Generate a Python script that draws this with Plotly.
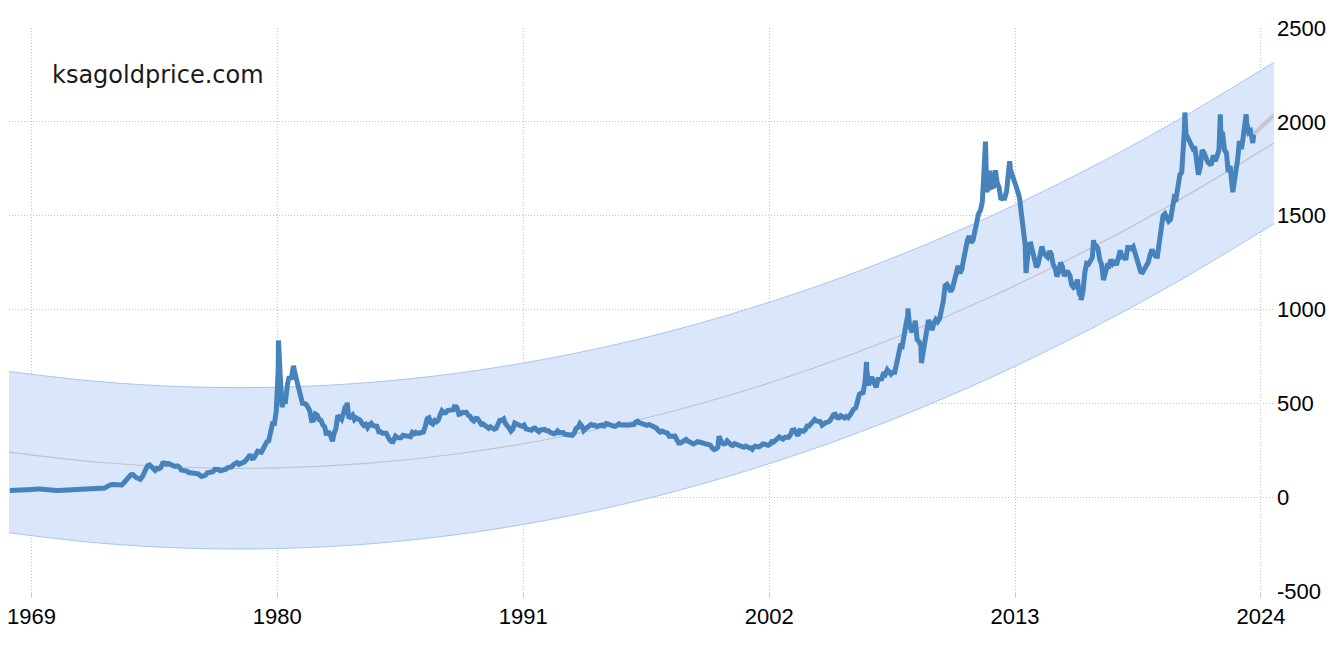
import pandas as pd
import plotly.graph_objects as go

# ---- monthly gold price (USD/oz); one row per year, Jan..Dec ----
start_year = 1968
monthly_prices = [
    [35.5, 36.5, 38, 39, 41, 41, 39.5, 38.5, 39, 39.5, 39.5, 41.5],
    [42, 42.5, 43, 43, 43, 41.5, 42, 41, 40.5, 40, 37, 35.5],
    [35, 35, 35.3, 35.7, 36, 35.5, 35.3, 35.4, 36.2, 37.5, 37.4, 37.4],
    [37.9, 38.7, 38.9, 39.5, 40.5, 40.1, 41, 42.7, 42, 42.5, 42.9, 43.5],
    [45.8, 48.3, 48.3, 49, 54.6, 62, 65.7, 67, 65.5, 64.9, 62.9, 63.9],
    [65.1, 74.2, 84.4, 90.5, 102, 120, 120.2, 106.8, 103, 100.1, 94.8, 106.7],
    [129, 150, 168, 172, 163, 154, 143, 154, 151, 158, 181, 183],
    [176, 180, 178, 170, 167, 164, 166, 160, 145, 143, 142, 139],
    [131, 131, 133, 128, 126, 125, 117, 110, 114, 117, 130, 134],
    [132, 136, 148, 149, 147, 141, 143, 145, 149, 158, 162, 161],
    [173, 178, 184, 175, 177, 184, 188, 206, 212, 227, 206, 208],
    [227, 245, 242, 239, 257, 279, 295, 301, 356, 392, 392, 456],
    [675, 665, 553, 517, 513, 600, 644, 627, 674, 661, 623, 594],
    [558, 500, 499, 495, 480, 460, 409, 410, 443, 437, 413, 410],
    [384, 374, 330, 350, 334, 315, 339, 364, 435, 422, 414, 444],
    [481, 492, 420, 432, 438, 413, 422, 416, 411, 394, 382, 388],
    [370, 386, 394, 381, 377, 378, 348, 348, 341, 340, 341, 320],
    [303, 299, 304, 325, 317, 317, 317, 330, 324, 326, 325, 322],
    [345, 338, 346, 340, 342, 343, 348, 376, 418, 423, 396, 390],
    [408, 401, 409, 438, 460, 450, 450, 461, 460, 465, 466, 487],
    [477, 442, 444, 452, 451, 452, 437, 432, 413, 406, 420, 419],
    [404, 388, 390, 384, 371, 367, 375, 365, 362, 367, 394, 409],
    [410, 417, 393, 374, 369, 352, 362, 395, 389, 380, 381, 378],
    [384, 364, 363, 358, 357, 367, 368, 356, 349, 359, 360, 361],
    [354, 354, 345, 338, 337, 341, 353, 343, 345, 344, 335, 334],
    [329, 330, 330, 342, 367, 372, 392, 379, 355, 365, 374, 383],
    [387, 382, 384, 377, 381, 386, 385, 380, 392, 390, 384, 380],
    [379, 377, 382, 391, 385, 388, 386, 383, 383, 383, 386, 387],
    [400, 405, 396, 393, 392, 385, 383, 387, 383, 381, 378, 369],
    [355, 347, 352, 344, 344, 341, 324, 324, 323, 325, 306, 289],
    [289, 297, 296, 308, 299, 292, 293, 284, 289, 296, 294, 291],
    [287, 287, 286, 282, 277, 262, 256, 257, 265, 311, 293, 284],
    [285, 300, 286, 280, 275, 285, 282, 275, 273, 270, 266, 272],
    [266, 262, 263, 261, 272, 270, 268, 273, 283, 283, 276, 276],
    [282, 296, 294, 302, 314, 321, 314, 310, 319, 317, 319, 333],
    [357, 359, 340, 328, 355, 356, 351, 360, 379, 379, 389, 407],
    [414, 405, 406, 403, 383, 392, 398, 400, 405, 420, 439, 442],
    [424, 423, 434, 429, 422, 430, 424, 437, 456, 470, 476, 510],
    [549, 555, 557, 610, 676, 596, 633, 632, 598, 585, 627, 629],
    [631, 665, 655, 679, 667, 655, 665, 665, 712, 754, 806, 803],
    [889, 922, 968, 909, 888, 889, 940, 839, 829, 806, 760, 816],
    [858, 943, 924, 890, 928, 946, 934, 949, 996, 1043, 1127, 1134],
    [1117, 1095, 1113, 1148, 1205, 1232, 1193, 1215, 1270, 1342, 1370, 1391],
    [1356, 1372, 1424, 1473, 1510, 1528, 1572, 1755, 1772, 1665, 1739, 1652],
    [1656, 1742, 1674, 1650, 1585, 1596, 1594, 1630, 1745, 1747, 1721, 1688],
    [1671, 1627, 1593, 1487, 1414, 1343, 1286, 1347, 1349, 1316, 1275, 1225],
    [1244, 1300, 1336, 1299, 1288, 1279, 1311, 1296, 1239, 1222, 1176, 1200],
    [1251, 1227, 1178, 1198, 1198, 1181, 1131, 1117, 1125, 1159, 1086, 1068],
    [1097, 1199, 1246, 1242, 1260, 1276, 1337, 1340, 1326, 1266, 1238, 1157],
    [1192, 1234, 1231, 1266, 1246, 1260, 1236, 1283, 1315, 1280, 1283, 1265],
    [1331, 1331, 1325, 1335, 1303, 1282, 1238, 1201, 1198, 1215, 1221, 1250],
    [1291, 1320, 1300, 1285, 1284, 1359, 1413, 1500, 1510, 1495, 1471, 1480],
    [1560, 1597, 1591, 1683, 1716, 1732, 1846, 1968, 1921, 1900, 1866, 1858],
    [1867, 1808, 1718, 1760, 1850, 1834, 1807, 1785, 1775, 1777, 1821, 1790],
    [1817, 1856, 1948, 1937, 1849, 1836, 1733, 1764, 1681, 1664, 1726, 1798],
    [1898, 1855, 1913, 2000, 1992, 1943, 1951, 1905],
]

# ---- daily extremes visible in the chart ----
spike_dates = ["1980-01-21", "1980-03-18", "1980-09-22", "1982-06-21", "1983-02-15",
               "1985-02-25", "1987-12-14", "1999-07-20", "1999-10-05", "2001-04-02",
               "2006-05-12", "2008-03-17", "2008-10-24", "2011-08-22", "2011-09-05",
               "2011-09-26", "2012-10-04", "2013-06-28", "2015-12-17", "2016-07-06",
               "2020-07-28", "2020-08-06", "2020-08-25", "2022-03-08", "2022-09-28",
               "2023-04-13", "2023-05-04", "2023-08-21", "2023-09-05"]
spike_prices = [835, 480, 700, 298, 505,
                286, 492, 253, 325, 256,
                720, 1005, 715, 1860, 1895,
                1625, 1790, 1195, 1050, 1370,
                1950, 2050, 1930, 2040, 1625,
                2020, 2040, 1887, 1935]

# ---- trend curve and channel ----
trend_dates = ["1968-01-01", "1972-01-01", "1976-01-01", "1980-01-01", "1984-01-01",
               "1988-01-01", "1992-01-01", "1996-01-01", "2000-01-01", "2004-01-01",
               "2008-01-01", "2012-01-01", "2016-01-01", "2020-01-01", "2024-08-01"]
trend_values = [240, 186, 158, 156, 180, 230, 306, 407, 535, 688, 867, 1072, 1303, 1560, 1887]
channel_upper = [670, 616, 588, 586, 610, 660, 736, 837, 965, 1118, 1297, 1502, 1733, 1990, 2317]
channel_lower = [-190, -244, -272, -274, -250, -200, -124, -23, 105, 258, 437, 642, 873, 1130, 1457]

# ---- forecast segment ----
forecast_dates = ["2023-09-05", "2024-08-01"]
forecast_values = [1935, 2036]

x_tick_years = ["1969", "1980", "1991", "2002", "2013", "2024"]
y_ticks = [-500, 0, 500, 1000, 1500, 2000, 2500]
y_tick_labels = ["-500", "0", "500", "1000", "1500", "2000", "2500"]

# build the price series
rows = []
for i, vals in enumerate(monthly_prices):
    y = start_year + i
    for m, v in enumerate(vals):
        rows.append((pd.Timestamp(year=y, month=m + 1, day=15), v))
for d, v in zip(spike_dates, spike_prices):
    rows.append((pd.Timestamp(d), v))
df = pd.DataFrame(rows, columns=["date", "price"]).sort_values("date")

fig = go.Figure()
fig.add_trace(go.Scatter(x=trend_dates, y=channel_lower, mode="lines",
                         line=dict(color="#a9c6ef", width=1, shape="spline"),
                         hoverinfo="skip", showlegend=False))
fig.add_trace(go.Scatter(x=trend_dates, y=channel_upper, mode="lines",
                         line=dict(color="#a9c6ef", width=1, shape="spline"),
                         fill="tonexty", fillcolor="rgba(214,227,249,0.9)",
                         hoverinfo="skip", showlegend=False))
fig.add_trace(go.Scatter(x=trend_dates, y=trend_values, mode="lines",
                         line=dict(color="#bfc3cc", width=1.2, shape="spline"),
                         hoverinfo="skip", showlegend=False))
fig.add_trace(go.Scatter(x=df["date"], y=df["price"], mode="lines",
                         line=dict(color="#4682bc", width=5),
                         showlegend=False))
fig.add_trace(go.Scatter(x=forecast_dates, y=forecast_values, mode="lines",
                         line=dict(color="#c3c7d0", width=4),
                         showlegend=False))

fig.add_annotation(text="ksagoldprice.com", xref="paper", yref="paper",
                   x=0.0324, y=0.9165, xanchor="left", yanchor="middle",
                   showarrow=False, font=dict(family="DejaVu Sans", size=24, color="#1a1a1a"))

# page body has an 8px margin: figure is sized to fit inside the window
fig.update_layout(
    width=1318, height=640,
    margin=dict(l=1, r=52, t=20, b=57),
    paper_bgcolor="white", plot_bgcolor="white",
    font=dict(family="Liberation Sans", size=22, color="black"),
)
fig.update_xaxes(
    type="date",
    range=["1968-01-01", "2024-08-01"],
    tickvals=[f"{y}-01-01" for y in x_tick_years],
    ticktext=x_tick_years,
    showgrid=True, gridcolor="#c4c4c4", griddash="1px,2px", gridwidth=1,
    ticks="outside", ticklen=6, tickcolor="#cccccc",
    showline=False, zeroline=False, automargin=False,
    ticklabeloverflow="allow",
)
fig.update_yaxes(
    side="right",
    range=[-500, 2500],
    tickvals=y_ticks,
    ticktext=y_tick_labels,
    showgrid=True, gridcolor="#c4c4c4", griddash="1px,2px", gridwidth=1,
    showline=False, zeroline=False, ticks="", automargin=False,
    ticklabelstandoff=2, ticklabeloverflow="allow",
)

fig.write_html("out.html")
